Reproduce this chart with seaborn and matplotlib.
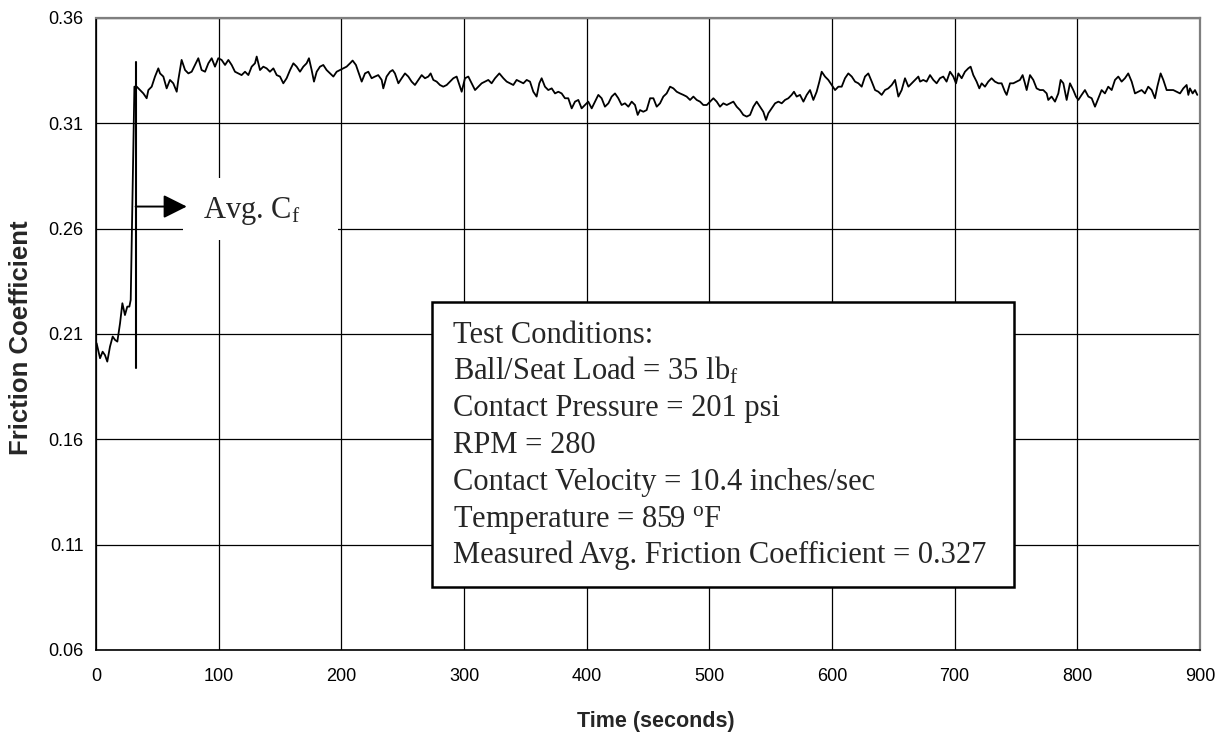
import numpy as np
import pandas as pd
import seaborn as sns
import matplotlib.pyplot as plt
from matplotlib.patches import Rectangle

# ---- data ----
time_s = [
    0.5, 3.3, 5.4, 7.3, 9.2, 11.4, 13.6, 15.5, 17.4, 19.6, 21.5, 23.6, 25.5, 27.2, 28.3, 31.3,
    33.2, 35.9, 38.6, 41.3, 42.7, 45.4, 48.1, 50.8, 52.2, 54.9, 57.6, 60.3, 63.0, 65.8, 67.1,
    69.8, 72.6, 75.3, 78.0, 80.7, 83.4, 86.1, 88.9, 91.6, 94.3, 97.0, 99.7, 102.4, 105.2,
    107.9, 110.6, 113.3, 116.0, 118.7, 121.5, 124.2, 126.9, 129.6, 131.0, 133.7, 136.4,
    139.1, 141.8, 144.6, 147.3, 150.0, 152.7, 155.4, 158.2, 160.9, 163.6, 166.3, 169.0,
    171.7, 173.6, 175.8, 177.7, 179.9, 182.6, 185.3, 188.0, 190.8, 193.5, 196.2, 198.9,
    201.6, 204.3,
    207.1, 209.2, 211.9, 213.8, 216.6, 219.3, 222.0, 224.7, 227.4, 230.1, 232.9, 234.2,
    236.9, 239.7, 241.8, 243.7, 246.5, 249.2, 251.9, 254.6, 257.3, 260.0, 262.8, 265.5,
    268.2, 270.9, 272.8, 275.0, 277.7, 280.4, 283.1, 285.9, 288.6, 291.3, 294.0, 296.7,
    298.1, 300.8, 303.5, 306.2, 309.0, 311.7, 314.4, 317.1, 319.8, 322.5, 325.3, 328.8,
    332.1, 334.8, 337.5, 340.2, 342.9, 345.6, 348.4, 351.1, 353.8, 356.5, 359.2, 361.4,
    363.3, 366.0, 368.7, 371.5, 374.2, 376.9, 379.6, 382.3, 385.0, 387.8, 390.5, 393.2,
    395.9, 398.6, 401.3, 404.1, 406.8, 409.5, 412.2, 414.9, 417.7, 420.4, 423.1, 425.8,
    428.5, 431.2, 434.0, 436.7, 439.4, 441.6, 443.5,
    446.2, 448.9, 451.7, 454.4, 457.1, 459.8, 462.5, 465.2, 468.0, 470.7, 473.4, 476.1,
    478.8, 481.5, 484.3, 487.0, 489.7, 492.4, 495.1, 497.9, 500.6, 503.3, 506.0, 508.7,
    511.4, 514.2, 516.9, 519.6, 522.3, 525.0, 527.7, 530.5, 533.2, 535.9, 538.6, 541.3,
    544.0, 546.2, 548.1, 550.8, 553.6, 556.3, 559.0, 561.7, 564.4, 567.1, 569.0, 571.2,
    573.9, 576.7, 579.4, 582.1, 584.8, 587.5, 589.7, 591.6, 594.3, 597.0, 599.8, 602.5,
    605.2, 607.9, 610.6, 613.3, 616.1, 618.8, 621.5, 624.2, 626.9, 629.6, 632.4, 635.1,
    637.8, 640.5, 643.2, 645.9, 648.7, 651.4, 654.1, 656.8, 659.5, 662.3, 665.0, 667.7,
    670.4, 671.8,
    674.4, 677.1, 679.9, 682.6, 685.3, 688.0, 690.7, 693.4, 696.2, 698.9, 701.1, 703.0,
    705.7, 708.4, 711.1, 713.0, 715.2, 717.9, 720.1, 722.0, 724.7, 727.4, 730.1, 732.8,
    735.6, 738.3, 741.0, 742.4, 745.1, 747.8, 750.5, 753.2, 755.4, 757.3, 758.7, 761.4,
    764.1, 766.8, 769.5, 772.2, 775.0, 776.3, 779.0, 781.8, 784.5, 786.4, 788.6, 791.3,
    794.0, 796.7, 798.9, 800.8, 803.5, 806.2, 809.0, 811.7, 814.4, 817.1, 819.8, 822.5,
    825.2, 828.0, 830.7, 833.4, 836.1, 838.8, 841.5, 844.3, 847.0, 849.7, 852.4, 855.1,
    857.8, 860.6, 863.3, 865.2, 867.9, 870.1, 872.8, 875.5, 878.2, 880.9, 883.7, 886.4,
    889.1, 890.5, 891.8, 894.0, 895.9, 897.8,
]
friction = [
    0.2056, 0.1985, 0.2016, 0.2000, 0.1969, 0.2040, 0.2088, 0.2072, 0.2064, 0.2151, 0.2246,
    0.2190, 0.2230, 0.2230, 0.2262, 0.3274,
    0.3274, 0.3258, 0.3242, 0.3219, 0.3258, 0.3274, 0.3322, 0.3361, 0.3337, 0.3322, 0.3266,
    0.3306, 0.3290, 0.3250, 0.3306, 0.3401, 0.3353, 0.3337, 0.3345, 0.3377, 0.3409, 0.3353,
    0.3345, 0.3385, 0.3409, 0.3369, 0.3409, 0.3401, 0.3377, 0.3401, 0.3377, 0.3345, 0.3337,
    0.3329, 0.3345, 0.3329, 0.3369, 0.3385, 0.3417, 0.3353, 0.3369, 0.3361, 0.3345, 0.3361,
    0.3329, 0.3322, 0.3290, 0.3314, 0.3353, 0.3385, 0.3369, 0.3345, 0.3369, 0.3385, 0.3409,
    0.3353, 0.3298, 0.3345, 0.3369, 0.3377, 0.3353, 0.3337, 0.3322, 0.3345, 0.3353, 0.3361,
    0.3369,
    0.3385, 0.3398, 0.3377, 0.3345, 0.3298, 0.3337, 0.3345, 0.3314, 0.3322, 0.3329, 0.3306,
    0.3266, 0.3322, 0.3345, 0.3353, 0.3337, 0.3290, 0.3314, 0.3337, 0.3322, 0.3298, 0.3282,
    0.3306, 0.3329, 0.3314, 0.3322, 0.3337, 0.3306, 0.3298, 0.3282, 0.3274, 0.3282, 0.3298,
    0.3314, 0.3322, 0.3274, 0.3250, 0.3314, 0.3322, 0.3290, 0.3258, 0.3274, 0.3290, 0.3298,
    0.3306, 0.3290, 0.3314, 0.3337, 0.3314, 0.3298, 0.3290, 0.3282, 0.3306, 0.3298, 0.3290,
    0.3306, 0.3298, 0.3250, 0.3227, 0.3290, 0.3314, 0.3274, 0.3258, 0.3266, 0.3242, 0.3250,
    0.3242, 0.3219, 0.3219, 0.3171, 0.3203, 0.3211, 0.3171, 0.3187, 0.3203, 0.3171, 0.3203,
    0.3235, 0.3219, 0.3179, 0.3195, 0.3227, 0.3242, 0.3219, 0.3187, 0.3195, 0.3179, 0.3203,
    0.3187, 0.3140, 0.3163,
    0.3155, 0.3163, 0.3219, 0.3219, 0.3179, 0.3195, 0.3227, 0.3242, 0.3274, 0.3266, 0.3250,
    0.3242, 0.3235, 0.3227, 0.3211, 0.3227, 0.3211, 0.3203, 0.3187, 0.3187, 0.3203, 0.3219,
    0.3203, 0.3179, 0.3195, 0.3187, 0.3195, 0.3203, 0.3179, 0.3163, 0.3140, 0.3132, 0.3140,
    0.3179, 0.3203, 0.3179, 0.3155, 0.3116, 0.3148, 0.3171, 0.3195, 0.3203, 0.3195, 0.3211,
    0.3219, 0.3235, 0.3250, 0.3227, 0.3235, 0.3203, 0.3235, 0.3258, 0.3211, 0.3250, 0.3298,
    0.3345, 0.3322, 0.3306, 0.3282, 0.3258, 0.3274, 0.3274, 0.3314, 0.3337, 0.3322, 0.3298,
    0.3290, 0.3274, 0.3322, 0.3337, 0.3298, 0.3258, 0.3250, 0.3235, 0.3258, 0.3266, 0.3282,
    0.3306, 0.3227, 0.3258, 0.3314, 0.3274, 0.3290, 0.3306, 0.3322, 0.3298,
    0.3306, 0.3298, 0.3329, 0.3306, 0.3290, 0.3314, 0.3322, 0.3298, 0.3345, 0.3322, 0.3290,
    0.3337, 0.3314, 0.3345, 0.3361, 0.3369, 0.3329, 0.3298, 0.3266, 0.3290, 0.3274, 0.3298,
    0.3314, 0.3298, 0.3290, 0.3290, 0.3250, 0.3235, 0.3290, 0.3290, 0.3298, 0.3306, 0.3329,
    0.3290, 0.3258, 0.3329, 0.3306, 0.3266, 0.3258, 0.3258, 0.3242, 0.3211, 0.3227, 0.3203,
    0.3242, 0.3306, 0.3290, 0.3211, 0.3290, 0.3258, 0.3227, 0.3211, 0.3235, 0.3258, 0.3227,
    0.3219, 0.3179, 0.3219, 0.3258, 0.3242, 0.3274, 0.3258, 0.3306, 0.3322, 0.3298, 0.3314,
    0.3337, 0.3298, 0.3242, 0.3250, 0.3258, 0.3242, 0.3274, 0.3258, 0.3219, 0.3274, 0.3337,
    0.3306, 0.3258, 0.3258, 0.3258, 0.3250, 0.3242, 0.3266, 0.3282, 0.3235, 0.3266, 0.3242,
    0.3258, 0.3235,
]

x_ticks = [0, 100, 200, 300, 400, 500, 600, 700, 800, 900]
y_ticks = [0.06, 0.11, 0.16, 0.21, 0.26, 0.31, 0.36]
y_tick_labels = ["0.06", "0.11", "0.16", "0.21", "0.26", "0.31", "0.36"]

# marker for the averaging start and its label
avg_start_t = 32.3
avg_line_low, avg_line_high = 0.194, 0.3393
avg_arrow_y, avg_arrow_end = 0.2705, 74

conditions = [
    "Test Conditions:",
    r"Ball/Seat Load = 35 lb$_{\mathrm{f}}$",
    "Contact Pressure = 201 psi",
    "RPM = 280",
    "Contact Velocity = 10.4 inches/sec",
    r"Temperature = 859 $^{\mathrm{o}}$F",
    "Measured Avg. Friction Coefficient = 0.327",
]

df = pd.DataFrame({"time": time_s, "cf": friction})

sns.set_theme(style="whitegrid")
plt.rcParams["font.family"] = ["Liberation Sans", "DejaVu Sans"]
plt.rcParams["mathtext.fontset"] = "custom"
plt.rcParams["mathtext.rm"] = "Liberation Serif"
plt.rcParams["mathtext.it"] = "Liberation Serif:italic"

W, H = 1230, 736
fig = plt.figure(figsize=(W / 100, H / 100), dpi=100)
fig.patch.set_facecolor("white")
ax = fig.add_axes([96 / W, 86 / H, 1104 / W, 632 / H])
ax.set_facecolor("white")

sns.lineplot(data=df, x="time", y="cf", ax=ax, color="black", lw=1.3,
             estimator=None, sort=False, zorder=3)

ax.set_xlim(0, 900)
ax.set_ylim(0.06, 0.36)
ax.set_xticks(x_ticks)
ax.set_yticks(y_ticks)
ax.set_yticklabels(y_tick_labels)
ax.set_xlabel("")
ax.set_ylabel("")

ax.set_axisbelow(True)
ax.grid(True, color="black", lw=0.9)
for side in ["left", "bottom"]:
    ax.spines[side].set_color("black")
    ax.spines[side].set_linewidth(1.2)
for side in ["top", "right"]:
    ax.spines[side].set_color("#7f7f7f")
    ax.spines[side].set_linewidth(1.6)
ax.tick_params(axis="both", direction="out", length=5, width=1, color="black",
               labelsize=13, labelcolor="black")
ax.tick_params(axis="y", pad=4)
ax.tick_params(axis="x", pad=8)

fig.text(656 / W, 1 - 722 / H, "Time (seconds)", ha="center", va="center",
         fontsize=15.5, fontweight="bold")
fig.text(21 / W, 1 - 338 / H, "Friction Coefficient", ha="center", va="center",
         rotation=90, fontsize=18.5, fontweight="bold")

# Avg. Cf marker
ax.plot([avg_start_t, avg_start_t], [avg_line_low, avg_line_high], color="black",
        lw=1.5, zorder=4)
ax.add_patch(Rectangle((70.9, 0.2546), 126.4, 0.0295, facecolor="white",
                       edgecolor="none", zorder=2))
ax.annotate("", xy=(avg_arrow_end, avg_arrow_y), xytext=(avg_start_t, avg_arrow_y),
            arrowprops=dict(arrowstyle="-|>,head_length=0.4,head_width=0.2",
                            mutation_scale=36, color="black", lw=1.4,
                            shrinkA=0, shrinkB=0), zorder=5)
ax.text(87.2, 0.2651, r"Avg. C$_{\mathrm{f}}$", ha="left", va="baseline",
        fontsize=22, family="Liberation Serif", zorder=5)

# test conditions box
ax.add_patch(Rectangle((336 / 1104, 63 / 632), 582 / 1104, 285 / 632,
                       transform=ax.transAxes, facecolor="white",
                       edgecolor="black", lw=1.8, zorder=6))
for i, line in enumerate(conditions):
    base_px = 343 + i * 36.7
    ax.text(357 / 1104, (650 - base_px) / 632, line, transform=ax.transAxes,
            ha="left", va="baseline", fontsize=22, family="Liberation Serif",
            zorder=7)

fig.savefig("out.png", dpi=100)
